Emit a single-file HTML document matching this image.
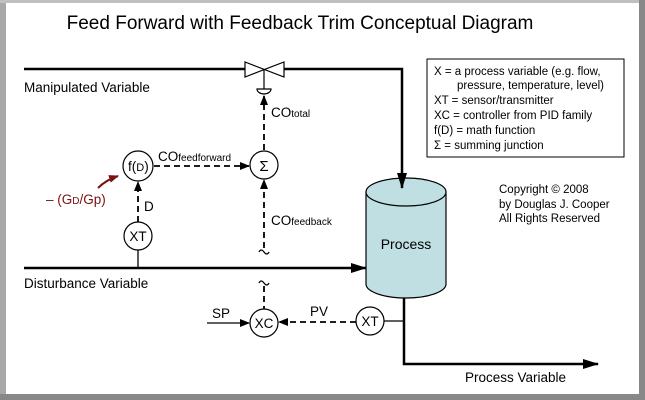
<!DOCTYPE html>
<html><head><style>
body{margin:0;background:#fff}
svg{display:block;font-family:"Liberation Sans",Arial,sans-serif}
</style></head><body>
<svg width="645" height="400" viewBox="0 0 645 400" xmlns="http://www.w3.org/2000/svg">
<defs>
<marker id="a" markerWidth="10" markerHeight="8" refX="9" refY="4" orient="auto" markerUnits="userSpaceOnUse"><path d="M0,0 L10,4 L0,8 z" fill="#000"/></marker>
<marker id="b" markerWidth="16" markerHeight="10" refX="15" refY="5" orient="auto" markerUnits="userSpaceOnUse"><path d="M0,0 L16,5 L0,10 z" fill="#000"/></marker>
<marker id="r" markerWidth="10" markerHeight="8" refX="9" refY="4" orient="auto" markerUnits="userSpaceOnUse"><path d="M0,0 L10,4 L0,8 z" fill="#7a1010"/></marker>
</defs>
<rect x="0" y="0" width="645" height="400" fill="#fff"/>
<rect x="0" y="0" width="6" height="400" fill="#a8a8a8"/>
<rect x="0" y="0" width="645" height="3" fill="#c0c0c0"/>
<rect x="639" y="0" width="6" height="400" fill="#888"/>
<rect x="0" y="394" width="645" height="6" fill="#888"/>
<text x="300" y="29" font-size="19" text-anchor="middle">Feed Forward with Feedback Trim Conceptual Diagram</text>
<g stroke="#000" fill="none" stroke-width="2.5">
<line x1="24" y1="69" x2="245" y2="69"/>
<line x1="24" y1="268" x2="366" y2="268" marker-end="url(#b)"/>
<polyline points="404,298 404,364 598,364" marker-end="url(#b)"/>
</g>
<path d="M245,62 L245,77 L284,62 L284,77 Z" fill="#fff" stroke="#000" stroke-width="1.2"/>
<line x1="264" y1="69" x2="264" y2="89" stroke="#000" stroke-width="1.2"/>
<path d="M257,89 L271,89 A7,5 0 0 1 257,89 Z" fill="#fff" stroke="#000" stroke-width="1.2"/>
<g stroke="#000" stroke-width="1.8" stroke-dasharray="6,4" fill="none">
<line x1="264" y1="150" x2="264" y2="96" marker-end="url(#a)"/>
<line x1="154" y1="166" x2="249" y2="166" marker-end="url(#a)"/>
<line x1="138" y1="222" x2="138" y2="182" marker-end="url(#a)"/>
<line x1="264" y1="248" x2="264" y2="180" marker-end="url(#a)"/>
<line x1="264" y1="286" x2="264" y2="309"/>
<line x1="356" y1="322" x2="279" y2="322" marker-end="url(#a)"/>
</g>
<g stroke="#000" stroke-width="1.3" fill="none">
<path d="M259,252 q2,-4 5,0 q3,4 5,0"/>
<path d="M259,283 q2,-4 5,0 q3,4 5,0"/>
<line x1="138" y1="250" x2="138" y2="268"/>
<line x1="207" y1="323" x2="249" y2="323" marker-end="url(#a)"/>
<line x1="384" y1="321" x2="404" y2="321"/>
</g>
<path d="M98,188 Q106,180 118,176" stroke="#7a1010" stroke-width="2" fill="none" marker-end="url(#r)"/>
<g fill="#fff" stroke="#000" stroke-width="1.2">
<circle cx="138" cy="166" r="15"/>
<circle cx="264" cy="165" r="14"/>
<circle cx="138" cy="236" r="14"/>
<circle cx="264" cy="323" r="14"/>
<circle cx="370" cy="321" r="14"/>
</g>
<path d="M366,192 L366,284 A40,14 0 0 0 446,284 L446,192 Z" fill="#bfdfe3" stroke="#000" stroke-width="1.2"/>
<ellipse cx="406" cy="192" rx="40" ry="14" fill="#bfdfe3" stroke="#000" stroke-width="1.2"/>
<polyline points="284,69 402,69 402,188" stroke="#000" stroke-width="2.5" fill="none" marker-end="url(#b)"/>
<g font-size="13.5">
<text x="406" y="249" text-anchor="middle" font-size="14">Process</text>
<text x="24" y="92">Manipulated Variable</text>
<text x="24" y="288">Disturbance Variable</text>
<text x="465" y="382">Process Variable</text>
<text x="128" y="171">f(<tspan font-size="11">D</tspan>)</text>
<text x="264" y="171" text-anchor="middle" font-size="15">Σ</text>
<text x="138" y="241" text-anchor="middle">XT</text>
<text x="264" y="328" text-anchor="middle">XC</text>
<text x="370" y="326" text-anchor="middle">XT</text>
<text x="144" y="211">D</text>
<text x="212" y="318">SP</text>
<text x="310" y="316">PV</text>
<text x="271" y="117">CO<tspan font-size="10">total</tspan></text>
<text x="158" y="161">CO<tspan font-size="10">feedforward</tspan></text>
<text x="271" y="225">CO<tspan font-size="10">feedback</tspan></text>
<text x="46" y="204" fill="#7a1010">– (G<tspan font-size="10">D</tspan>/Gp)</text>
</g>
<rect x="427" y="59" width="197" height="98" fill="#fff" stroke="#000" stroke-width="1"/>
<g font-size="11.5">
<text x="434" y="75">X = a process variable (e.g. flow,</text>
<text x="457" y="89">pressure, temperature, level)</text>
<text x="434" y="104">XT = sensor/transmitter</text>
<text x="434" y="119">XC = controller from PID family</text>
<text x="434" y="134">f(D) = math function</text>
<text x="434" y="149">Σ = summing junction</text>
<text x="499" y="193">Copyright © 2008</text>
<text x="499" y="208">by Douglas J. Cooper</text>
<text x="499" y="222">All Rights Reserved</text>
</g>
</svg>
</body></html>
